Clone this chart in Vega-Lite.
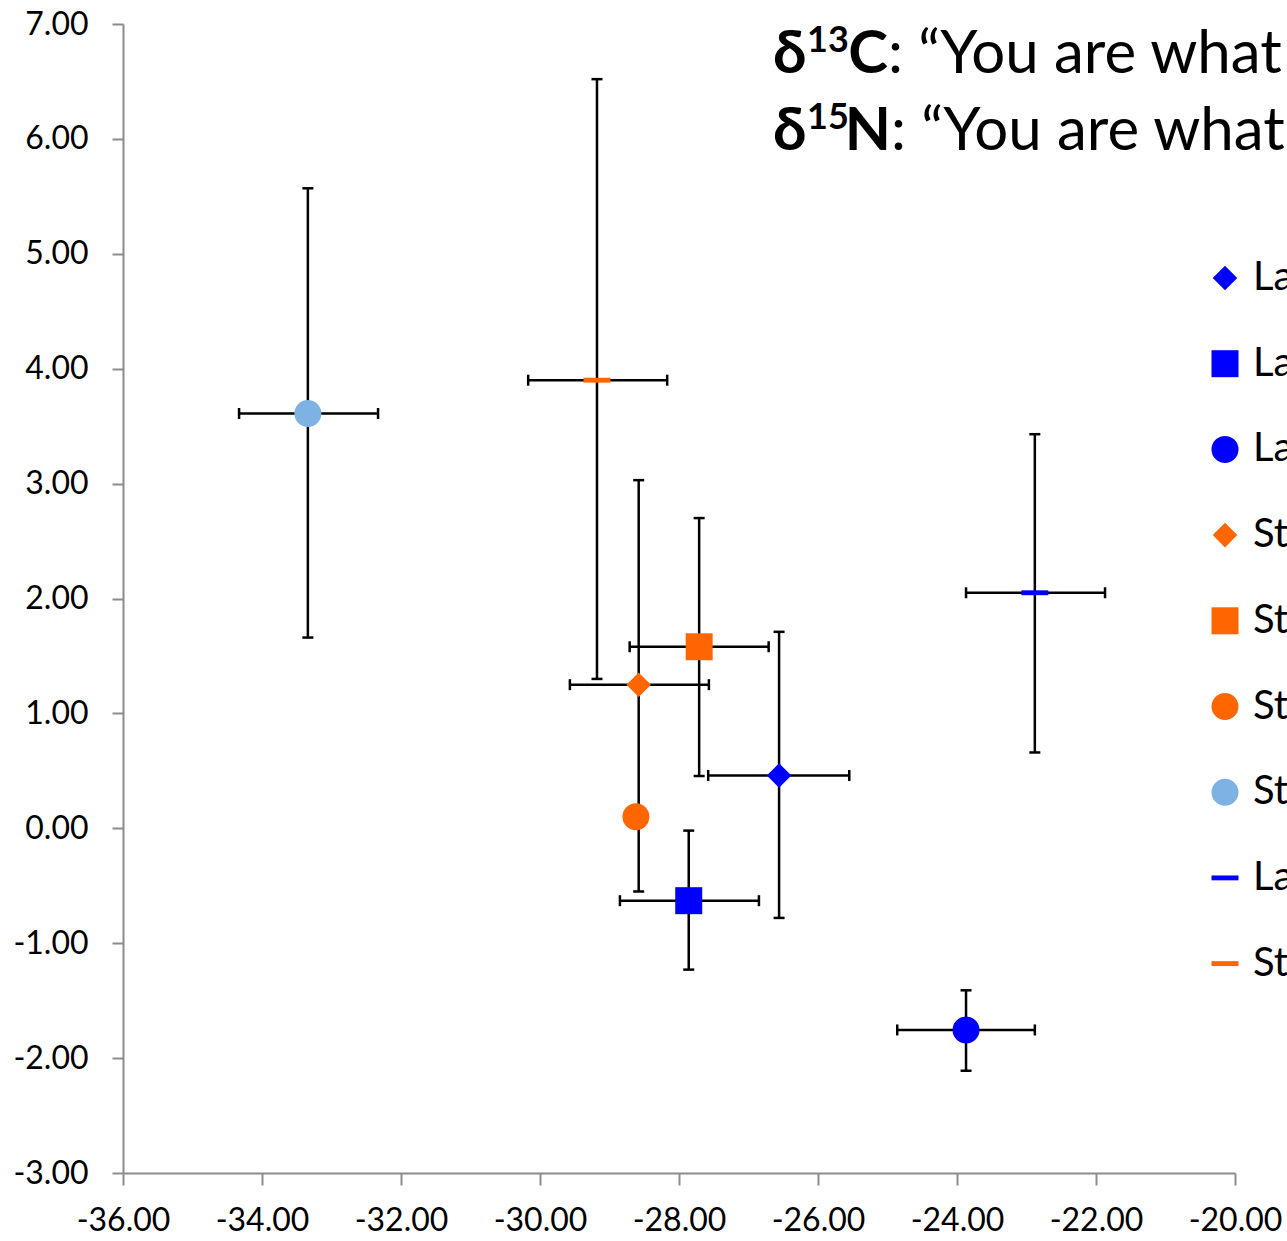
{
  "$schema": "https://vega.github.io/schema/vega-lite/v6.json",
  "width": 1112,
  "height": 1149,
  "autosize": {"type": "none"},
  "padding": {"left": 123, "top": 24, "right": 52, "bottom": 68},
  "background": "white",
  "config": {
    "view": {"stroke": null},
    "font": "Lato",
    "locale": {"number": {"decimal": ".", "thousands": ",", "grouping": [3], "currency": ["$", ""], "minus": "-"}},
    "axis": {
      "grid": false,
      "domainColor": "#8c8c8c",
      "domainWidth": 2,
      "tickColor": "#8c8c8c",
      "tickWidth": 2,
      "labelFont": "Lato",
      "labelFontSize": 32,
      "labelColor": "#000000",
      "labelOverlap": false,
      "labelFlush": false,
      "title": null,
      "format": ".2f"
    },
    "text": {"font": "Lato", "color": "#000000", "baseline": "alphabetic", "fontWeight": "bold"}
  },
  "datasets": {
    "pts": [
      {"series": "La 1", "x": -26.56, "y": 0.46, "xlo": -27.58, "xhi": -25.55, "ylo": -0.78, "yhi": 1.71},
      {"series": "La 2", "x": -27.86, "y": -0.63, "xlo": -28.85, "xhi": -26.85, "ylo": -1.23, "yhi": -0.02},
      {"series": "La 3", "x": -23.87, "y": -1.755, "xlo": -24.86, "xhi": -22.88, "ylo": -2.11, "yhi": -1.41},
      {"series": "St 1", "x": -28.58, "y": 1.25, "xlo": -29.57, "xhi": -27.57, "ylo": -0.55, "yhi": 3.03},
      {"series": "St 2", "x": -27.71, "y": 1.58, "xlo": -28.71, "xhi": -26.71, "ylo": 0.455, "yhi": 2.70},
      {"series": "St 3", "x": -28.62, "y": 0.10, "xlo": null, "xhi": null, "ylo": null, "yhi": null},
      {"series": "St 4", "x": -33.34, "y": 3.61, "xlo": -34.33, "xhi": -32.33, "ylo": 1.66, "yhi": 5.57},
      {"series": "La 4", "x": -22.88, "y": 2.05, "xlo": -23.87, "xhi": -21.87, "ylo": 0.66, "yhi": 3.43},
      {"series": "St 5", "x": -29.18, "y": 3.90, "xlo": -30.17, "xhi": -28.17, "ylo": 1.30, "yhi": 6.52}
    ],
    "heading1": [{"delta": "δ", "iso": "13", "elem": "C", "rest": ": “You are what you eat”"}],
    "heading2": [{"delta": "δ", "iso": "15", "elem": "N", "rest": ": “You are what you eat”"}]
  },
  "layer": [
    {
      "data": {"name": "pts"},
      "transform": [{"filter": "isValid(datum.xlo)"}],
      "layer": [
        {
          "mark": {"type": "rule", "color": "#000000", "strokeWidth": 2.5},
          "encoding": {
            "x": {"field": "xlo", "type": "quantitative", "scale": {"domain": [-36, -20], "nice": false, "zero": false},
                  "axis": {"values": [-36, -34, -32, -30, -28, -26, -24, -22, -20], "tickSize": 12, "labelPadding": 20}},
            "x2": {"field": "xhi"},
            "y": {"field": "y", "type": "quantitative", "scale": {"domain": [-3, 7], "nice": false, "zero": false},
                  "axis": {"values": [-3, -2, -1, 0, 1, 2, 3, 4, 5, 6, 7], "tickSize": 11, "labelPadding": 24}}
          }
        },
        {
          "mark": {"type": "rule", "color": "#000000", "strokeWidth": 2.5},
          "encoding": {
            "x": {"field": "x", "type": "quantitative"},
            "y": {"field": "ylo", "type": "quantitative"},
            "y2": {"field": "yhi"}
          }
        },
        {
          "mark": {"type": "tick", "orient": "vertical", "color": "#000000", "size": 11, "thickness": 2.5, "opacity": 1},
          "encoding": {"x": {"field": "xlo", "type": "quantitative"}, "y": {"field": "y", "type": "quantitative"}}
        },
        {
          "mark": {"type": "tick", "orient": "vertical", "color": "#000000", "size": 11, "thickness": 2.5, "opacity": 1},
          "encoding": {"x": {"field": "xhi", "type": "quantitative"}, "y": {"field": "y", "type": "quantitative"}}
        },
        {
          "mark": {"type": "tick", "orient": "horizontal", "color": "#000000", "size": 11, "thickness": 2.5, "opacity": 1},
          "encoding": {"x": {"field": "x", "type": "quantitative"}, "y": {"field": "ylo", "type": "quantitative"}}
        },
        {
          "mark": {"type": "tick", "orient": "horizontal", "color": "#000000", "size": 11, "thickness": 2.5, "opacity": 1},
          "encoding": {"x": {"field": "x", "type": "quantitative"}, "y": {"field": "yhi", "type": "quantitative"}}
        }
      ]
    },
    {
      "data": {"name": "pts"},
      "mark": {"type": "point", "filled": true, "opacity": 1, "size": 729, "strokeWidth": 0},
      "encoding": {
        "x": {"field": "x", "type": "quantitative"},
        "y": {"field": "y", "type": "quantitative"},
        "color": {
          "field": "series", "type": "nominal",
          "scale": {
            "domain": ["La 1", "La 2", "La 3", "St 1", "St 2", "St 3", "St 4", "La 4", "St 5"],
            "range": ["#0000FF", "#0000FF", "#0000FF", "#FF6600", "#FF6600", "#FF6600", "#7EB2E4", "#0000FF", "#FF6600"]
          },
          "legend": {
            "orient": "none", "legendX": 1082, "legendY": 234, "title": null,
            "symbolSize": 729, "symbolStrokeWidth": 0, "symbolOpacity": 1,
            "labelFont": "Lato", "labelFontSize": 40, "labelColor": "#000000", "labelLimit": 0,
            "labelOffset": 8, "rowPadding": 45.7,
            "labelExpr": "slice(datum.label, 0, 2)"
          }
        },
        "shape": {
          "field": "series", "type": "nominal",
          "scale": {
            "domain": ["La 1", "La 2", "La 3", "St 1", "St 2", "St 3", "St 4", "La 4", "St 5"],
            "range": ["M-0.91,0L0,-0.91L0.91,0L0,0.91Z", "square", "circle", "M-0.91,0L0,-0.91L0.91,0L0,0.91Z", "square", "circle", "circle", "M-1,-0.18L1,-0.18L1,0.18L-1,0.18Z", "M-1,-0.18L1,-0.18L1,0.18L-1,0.18Z"]
          }
        }
      }
    },
    {
      "data": {"name": "heading1"},
      "layer": [
        {
          "mark": {"type": "text", "align": "left", "fontSize": 60},
          "encoding": {"x": {"datum": -26.647}, "y": {"datum": 6.574}, "text": {"field": "delta"}}
        },
        {
          "mark": {"type": "text", "align": "left", "fontSize": 36},
          "encoding": {"x": {"datum": -26.158}, "y": {"datum": 6.756}, "text": {"field": "iso"}}
        },
        {
          "mark": {"type": "text", "align": "right", "fontSize": 60},
          "encoding": {"x": {"datum": -24.993}, "y": {"datum": 6.574}, "text": {"field": "elem"}}
        },
        {
          "mark": {"type": "text", "align": "left", "fontSize": 60, "fontWeight": "normal"},
          "encoding": {"x": {"datum": -24.993}, "y": {"datum": 6.574}, "text": {"field": "rest"}}
        }
      ]
    },
    {
      "data": {"name": "heading2"},
      "layer": [
        {
          "mark": {"type": "text", "align": "left", "fontSize": 60},
          "encoding": {"x": {"datum": -26.647}, "y": {"datum": 5.903}, "text": {"field": "delta"}}
        },
        {
          "mark": {"type": "text", "align": "left", "fontSize": 36},
          "encoding": {"x": {"datum": -26.158}, "y": {"datum": 6.086}, "text": {"field": "iso"}}
        },
        {
          "mark": {"type": "text", "align": "right", "fontSize": 60},
          "encoding": {"x": {"datum": -24.950}, "y": {"datum": 5.903}, "text": {"field": "elem"}}
        },
        {
          "mark": {"type": "text", "align": "left", "fontSize": 60, "fontWeight": "normal"},
          "encoding": {"x": {"datum": -24.950}, "y": {"datum": 5.903}, "text": {"field": "rest"}}
        }
      ]
    }
  ]
}
